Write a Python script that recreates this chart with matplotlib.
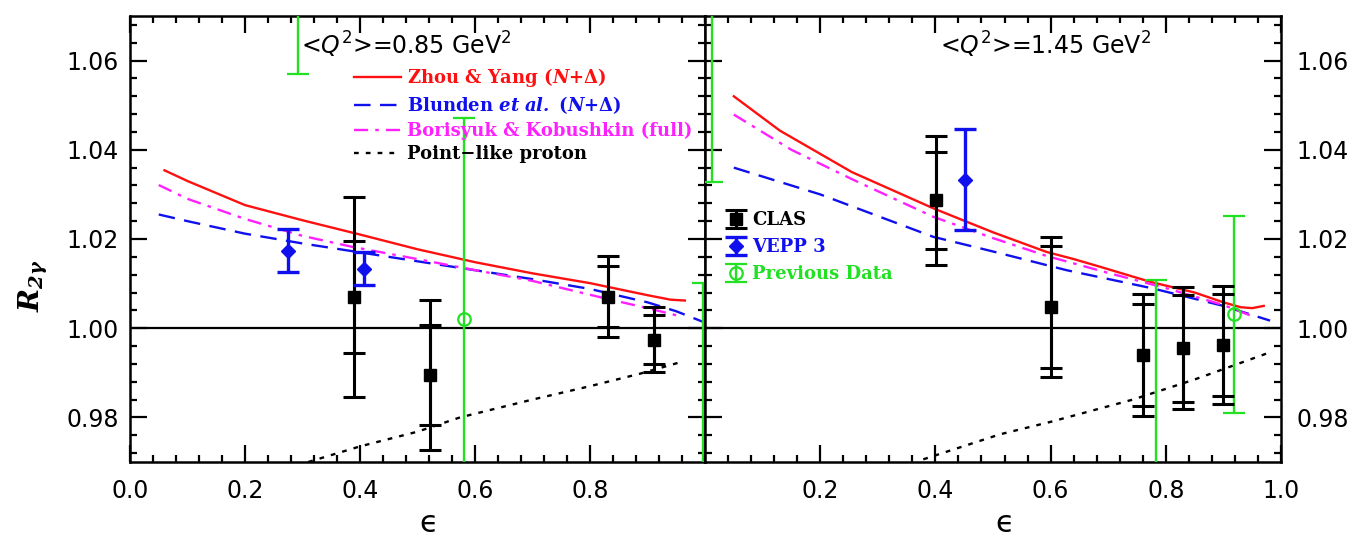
import matplotlib
matplotlib.use("Agg")
import matplotlib.pyplot as plt
from matplotlib.font_manager import FontProperties
from matplotlib.ticker import MultipleLocator

# ---------------- data : <Q^2> = 0.85 GeV^2 (left) ----------------
zy_eps_L = [0.06, 0.10, 0.20, 0.30, 0.40, 0.50, 0.60, 0.70, 0.80, 0.90, 0.94, 0.965]
zy_R_L = [1.0354, 1.0330, 1.0276, 1.0242, 1.0210, 1.0177, 1.0148, 1.0123, 1.0101, 1.0074, 1.0064, 1.0062]
bl_eps_L = [0.05, 0.10, 0.20, 0.30, 0.40, 0.50, 0.60, 0.70, 0.80, 0.90, 0.95, 0.995]
bl_R_L = [1.0255, 1.0240, 1.0212, 1.0190, 1.0170, 1.0150, 1.0130, 1.0110, 1.0088, 1.0058, 1.0038, 1.0015]
bk_eps_L = [0.05, 0.10, 0.20, 0.30, 0.388, 0.50, 0.568, 0.70, 0.829, 0.90, 0.95]
bk_R_L = [1.0321, 1.0290, 1.0245, 1.0207, 1.0182, 1.0155, 1.0138, 1.0106, 1.0066, 1.0045, 1.0029]
pl_eps_L = [0.31, 0.40, 0.50, 0.574, 0.70, 0.80, 0.887, 0.955]
pl_R_L = [0.9700, 0.9735, 0.9768, 0.9800, 0.9840, 0.9870, 0.9898, 0.9923]

clas_eps_L = [0.390, 0.522, 0.832, 0.912]
clas_R_L = [1.0070, 0.9895, 1.0071, 0.9974]
clas_in_L = [0.0125, 0.0112, 0.0068, 0.0055]
clas_out_L = [0.0225, 0.0168, 0.0091, 0.0073]

vepp_eps_L = [0.274, 0.407]
vepp_R_L = [1.0174, 1.0133]
vepp_err_L = [0.0049, 0.0037]

prev_eps_L = [0.293, 0.580, 0.996]
prev_R_L = [1.1000, 1.0020, 0.9600]
prev_err_L = [0.0429, 0.0451, 0.0501]

# ---------------- data : <Q^2> = 1.45 GeV^2 (right) ----------------
zy_eps_R = [0.05, 0.13, 0.255, 0.396, 0.50, 0.593, 0.64, 0.68, 0.773, 0.85, 0.90, 0.93, 0.95, 0.97]
zy_R_R = [1.0520, 1.0443, 1.0350, 1.0269, 1.0215, 1.0171, 1.0155, 1.0140, 1.0104, 1.0080, 1.0058, 1.0047, 1.0045, 1.0050]
bl_eps_R = [0.05, 0.20, 0.396, 0.50, 0.628, 0.778, 0.90, 0.981]
bl_R_R = [1.0360, 1.0300, 1.0205, 1.0172, 1.0130, 1.0089, 1.0050, 1.0017]
bk_eps_R = [0.05, 0.15, 0.257, 0.396, 0.50, 0.593, 0.70, 0.80, 0.90, 0.946]
bk_R_R = [1.0479, 1.0400, 1.0333, 1.0250, 1.0202, 1.0162, 1.0124, 1.0090, 1.0052, 1.0029]
pl_eps_R = [0.379, 0.512, 0.60, 0.743, 0.85, 0.981]
pl_R_R = [0.9706, 0.9762, 0.9790, 0.9840, 0.9885, 0.9946]

clas_eps_R = [0.401, 0.600, 0.760, 0.829, 0.899]
clas_R_R = [1.0287, 1.0047, 0.9940, 0.9955, 0.9962]
clas_in_R = [0.0109, 0.0137, 0.0115, 0.0120, 0.0115]
clas_out_R = [0.0145, 0.0157, 0.0137, 0.0137, 0.0133]

vepp_eps_R = [0.451]
vepp_R_R = [1.0333]
vepp_err_R = [0.0113]

prev_eps_R = [0.012, 0.783, 0.918]
prev_R_R = [1.0800, 0.9600, 1.0031]
prev_err_R = [0.0472, 0.0509, 0.0221]

titles = [r"<$Q^2$>=0.85 GeV$^2$", r"<$Q^2$>=1.45 GeV$^2$"]
xticks_L = [0.0, 0.2, 0.4, 0.6, 0.8]
xticks_R = [0.2, 0.4, 0.6, 0.8, 1.0]
yticks = [0.98, 1.00, 1.02, 1.04, 1.06]

RED = "#ff1010"
BLUE = "#1010ee"
MAG = "#ff20ff"
GREEN = "#22e022"

W, H = 1371, 541
fig = plt.figure(figsize=(W / 100, H / 100), dpi=100)
axL = fig.add_axes([130 / W, 79 / H, 575 / W, 446 / H])
axR = fig.add_axes([705 / W, 79 / H, 576 / W, 446 / H])


def style(ax, xticks, side):
    ax.set_xlim(0, 1)
    ax.set_ylim(0.97, 1.07)
    ax.set_xticks(xticks)
    ax.set_xticklabels(["%.1f" % v for v in xticks], fontsize=17)
    ax.set_yticks(yticks)
    ax.set_yticklabels(["%.2f" % v for v in yticks], fontsize=17)
    ax.xaxis.set_minor_locator(MultipleLocator(0.04))
    ax.yaxis.set_minor_locator(MultipleLocator(0.004))
    ax.tick_params(which="both", direction="in", top=True, right=True,
                   left=True, bottom=True, width=1.6)
    ax.tick_params(which="major", length=12)
    ax.tick_params(which="minor", length=5)
    ax.tick_params(axis="x", which="major", pad=12)
    if side == "left":
        ax.tick_params(axis="y", labelleft=True, labelright=False, pad=8)
    else:
        ax.tick_params(axis="y", labelleft=False, labelright=True, pad=11)
    for s in ax.spines.values():
        s.set_linewidth(1.8)
    ax.axhline(1.0, color="k", lw=1.6, zorder=1)


def curves(ax, zy_e, zy_r, bl_e, bl_r, bk_e, bk_r, pl_e, pl_r):
    h1, = ax.plot(zy_e, zy_r, color=RED, lw=1.7, ls="-")
    h2, = ax.plot(bl_e, bl_r, color=BLUE, lw=1.7, ls=(0, (7, 4)))
    h3, = ax.plot(bk_e, bk_r, color=MAG, lw=1.7, ls=(0, (6, 3, 1.5, 3)))
    h4, = ax.plot(pl_e, pl_r, color="k", lw=1.7, ls=(0, (2, 3)))
    return [h1, h2, h3, h4]


def points(ax, ce, cr, ci, co, ve, vr, verr, pe, pr, perr):
    hc = ax.errorbar(ce, cr, yerr=co, fmt="s", color="k", ms=9, capsize=8,
                     elinewidth=2.2, capthick=2.2, zorder=5)
    ax.errorbar(ce, cr, yerr=ci, fmt="none", ecolor="k", capsize=8,
                elinewidth=2.2, capthick=2.2, zorder=5)
    hv = ax.errorbar(ve, vr, yerr=verr, fmt="D", color=BLUE, ms=7, capsize=8,
                     elinewidth=2.4, capthick=2.4, zorder=6)
    hp = ax.errorbar(pe, pr, yerr=perr, fmt="o", color=GREEN, mfc="none", ms=9,
                     mew=1.6, capsize=8, elinewidth=1.7, capthick=1.7, zorder=4)
    return [hc, hv, hp]


style(axL, xticks_L, "left")
style(axR, xticks_R, "right")

hl = curves(axL, zy_eps_L, zy_R_L, bl_eps_L, bl_R_L, bk_eps_L, bk_R_L, pl_eps_L, pl_R_L)
curves(axR, zy_eps_R, zy_R_R, bl_eps_R, bl_R_R, bk_eps_R, bk_R_R, pl_eps_R, pl_R_R)
points(axL, clas_eps_L, clas_R_L, clas_in_L, clas_out_L, vepp_eps_L, vepp_R_L,
       vepp_err_L, prev_eps_L, prev_R_L, prev_err_L)
hr = points(axR, clas_eps_R, clas_R_R, clas_in_R, clas_out_R, vepp_eps_R, vepp_R_R,
            vepp_err_R, prev_eps_R, prev_R_R, prev_err_R)

# titles
tprop = FontProperties(family="DejaVu Sans", size=17, math_fontfamily="dejavusans")
axL.text(0.48, 0.935, titles[0], transform=axL.transAxes, ha="center", va="center",
         fontproperties=tprop)
axR.text(0.592, 0.935, titles[1], transform=axR.transAxes, ha="center", va="center",
         fontproperties=tprop)

# legends
lprop = FontProperties(family="DejaVu Serif", weight="bold", size=13,
                       math_fontfamily="dejavuserif")
labelsL = [r"Zhou & Yang ($\mathbfit{N}$+Δ)",
           r"Blunden $\mathbfit{et\ al.}$ ($\mathbfit{N}$+Δ)",
           "Borisyuk & Kobushkin (full)",
           "Point\u2212like proton"]
legL = axL.legend(hl, labelsL, loc="upper left", bbox_to_anchor=(0.39, 0.888),
                  frameon=False, prop=lprop, handlelength=2.6, handletextpad=0.3,
                  labelspacing=0.3, borderpad=0, borderaxespad=0)
for t, c in zip(legL.get_texts(), [RED, BLUE, MAG, "k"]):
    t.set_color(c)

legR = axR.legend(hr, ["CLAS", "VEPP 3", "Previous Data"], loc="upper left",
                  bbox_to_anchor=(0.035, 0.563), frameon=False, prop=lprop,
                  handlelength=1.2, handletextpad=0.3, labelspacing=0.5,
                  borderpad=0, borderaxespad=0)
for t, c in zip(legR.get_texts(), ["k", BLUE, GREEN]):
    t.set_color(c)

# axis labels
axL.set_ylabel(r"$\mathbfit{R}_{\mathbfit{2\gamma}}$", fontsize=20,
               math_fontfamily="dejavuserif")
axL.yaxis.set_label_coords(-0.139, 0.395)
for ax in (axL, axR):
    ax.set_xlabel("\u03f5", fontsize=22, family="DejaVu Sans")
    ax.xaxis.set_label_coords(0.52, -0.105)

fig.savefig("out.png", dpi=100)
